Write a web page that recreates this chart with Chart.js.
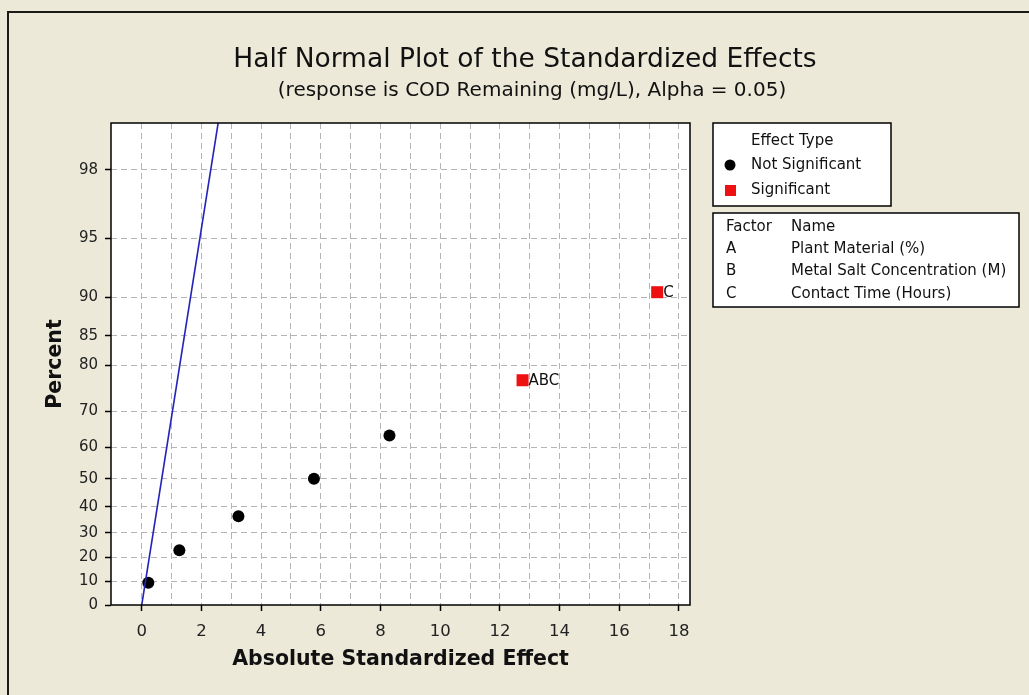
<!DOCTYPE html>
<html>
<head>
  <title>Half Normal Plot</title>
  <script src="https://cdn.jsdelivr.net/npm/chart.js"></script>
  <style>
    body { margin: 0; background: #ece9d8; }
    canvas { display: block; }
  </style>
</head>
<body>
  <canvas id="halfNormal" width="1029" height="695"></canvas>

  <script>
    const FONT = "'DejaVu Sans', sans-serif";

    // effects and their half-normal plotting positions (%)
    const nsEffects = [0.22, 1.26, 3.24, 5.77, 8.3];
    const nsPercent = [9.46, 22.97, 36.49, 50.0, 63.51];
    const sigEffects = [12.76, 17.27];
    const sigPercent = [77.03, 90.54];
    const sigLabels = ["ABC", "C"];

    // reference line through the origin
    const lineEffect = [0, 2.56];
    const linePercent = [0, 99.0];

    const percentTicks = [0, 10, 20, 30, 40, 50, 60, 70, 80, 85, 90, 95, 98];
    const effectGrid = [0, 1, 2, 3, 4, 5, 6, 7, 8, 9, 10, 11, 12, 13, 14, 15, 16, 17, 18];
    const effectLabels = [0, 2, 4, 6, 8, 10, 12, 14, 16, 18];

    const factorCodes = ["A", "B", "C"];
    const factorNames = ["Plant Material (%)", "Metal Salt Concentration (M)", "Contact Time (Hours)"];

    // inverse standard normal cdf (Acklam)
    function normInv(p) {
      const a = [-39.69683028665376, 220.9460984245205, -275.9285104469687, 138.3577518672690, -30.66479806614716, 2.506628277459239];
      const b = [-54.47609879822406, 161.5858368580409, -155.6989798598866, 66.80131188771972, -13.28068155288572];
      const c = [-0.007784894002430293, -0.3223964580411365, -2.400758277161838, -2.549732539343734, 4.374664141464968, 2.938163982698783];
      const d = [0.007784695709041462, 0.3224671290700398, 2.445134137142996, 3.754408661907416];
      const plow = 0.02425;
      let q, r;
      if (p < plow) {
        q = Math.sqrt(-2 * Math.log(p));
        return (((((c[0]*q+c[1])*q+c[2])*q+c[3])*q+c[4])*q+c[5]) / ((((d[0]*q+d[1])*q+d[2])*q+d[3])*q+1);
      }
      if (p <= 1 - plow) {
        q = p - 0.5; r = q * q;
        return (((((a[0]*r+a[1])*r+a[2])*r+a[3])*r+a[4])*r+a[5])*q / (((((b[0]*r+b[1])*r+b[2])*r+b[3])*r+b[4])*r+1);
      }
      q = Math.sqrt(-2 * Math.log(1 - p));
      return -(((((c[0]*q+c[1])*q+c[2])*q+c[3])*q+c[4])*q+c[5]) / ((((d[0]*q+d[1])*q+d[2])*q+d[3])*q+1);
    }
    const hnq = pct => normInv(0.5 + pct / 200);

    // percent axis spaced by half-normal quantiles
    class HalfNormalScale extends Chart.LinearScale {
      buildTicks() {
        return percentTicks.map(v => ({ value: v }));
      }
      getPixelForValue(v) {
        const lo = hnq(this.min), hi = hnq(this.max);
        return this.getPixelForDecimal((hnq(v) - lo) / (hi - lo));
      }
      getValueForPixel(px) {
        let lo = this.min, hi = this.max;
        for (let i = 0; i < 40; i++) {
          const mid = (lo + hi) / 2;
          if (this.getPixelForValue(mid) > px) lo = mid; else hi = mid;
        }
        return (lo + hi) / 2;
      }
    }
    HalfNormalScale.id = "halfnormal";
    HalfNormalScale.defaults = Chart.LinearScale.defaults;
    Chart.register(HalfNormalScale);

    const decor = {
      id: "decor",
      beforeDraw(chart) {
        const { ctx, chartArea: ca } = chart;
        ctx.save();
        ctx.fillStyle = "#ece9d8";
        ctx.fillRect(0, 0, chart.width, chart.height);
        ctx.strokeStyle = "#1a1a1a";
        ctx.lineWidth = 2;
        ctx.beginPath();
        ctx.moveTo(8, 695); ctx.lineTo(8, 12); ctx.lineTo(1029, 12);
        ctx.stroke();
        ctx.fillStyle = "#ffffff";
        ctx.fillRect(ca.left, ca.top, ca.right - ca.left, ca.bottom - ca.top);

        ctx.fillStyle = "#111";
        ctx.textAlign = "center";
        ctx.textBaseline = "middle";
        ctx.font = "26.5px " + FONT;
        ctx.fillText("Half Normal Plot of the Standardized Effects", 525, 60);
        ctx.font = "20px " + FONT;
        ctx.fillText("(response is COD Remaining (mg/L), Alpha = 0.05)", 532, 91);
        ctx.restore();
      },
      afterDatasetsDraw(chart) {
        const { ctx, chartArea: ca } = chart;
        ctx.save();
        ctx.strokeStyle = "#000";
        ctx.lineWidth = 1.5;
        ctx.strokeRect(ca.left, ca.top, ca.right - ca.left, ca.bottom - ca.top);

        // labels next to the significant effects
        ctx.fillStyle = "#111";
        ctx.font = "15px " + FONT;
        ctx.textAlign = "left";
        ctx.textBaseline = "middle";
        chart.getDatasetMeta(2).data.forEach((pt, i) => {
          ctx.fillText(sigLabels[i], pt.x + 6, pt.y + 1);
        });

        // effect type box
        ctx.lineWidth = 1.5;
        ctx.strokeStyle = "#000";
        ctx.fillStyle = "#ffffff";
        ctx.fillRect(713, 123, 178, 83);
        ctx.strokeRect(713, 123, 178, 83);
        ctx.fillRect(713, 213, 306, 94);
        ctx.strokeRect(713, 213, 306, 94);

        ctx.fillStyle = "#111";
        ctx.fillText("Effect Type", 751, 141);
        ctx.fillText("Not Significant", 751, 165);
        ctx.fillText("Significant", 751, 190);
        ctx.fillStyle = "#000";
        ctx.beginPath();
        ctx.arc(730, 165, 5.5, 0, Math.PI * 2);
        ctx.fill();
        ctx.fillStyle = "#ee1111";
        ctx.fillRect(725, 185, 11, 11);

        // factor names box
        ctx.fillStyle = "#111";
        ctx.fillText("Factor", 726, 227);
        ctx.fillText("Name", 791, 227);
        factorCodes.forEach((code, i) => {
          const y = 249 + i * 22.5;
          ctx.fillText(code, 726, y);
          ctx.fillText(factorNames[i], 791, y);
        });
        ctx.restore();
      }
    };

    const gridDash = [6, 4];

    new Chart(document.getElementById("halfNormal"), {
      type: "scatter",
      data: {
        datasets: [
          {
            type: "line",
            data: lineEffect.map((x, i) => ({ x, y: linePercent[i] })),
            borderColor: "#2424b8",
            borderWidth: 1.6,
            pointRadius: 0,
            fill: false
          },
          {
            label: "Not Significant",
            data: nsEffects.map((x, i) => ({ x, y: nsPercent[i] })),
            pointStyle: "circle",
            pointRadius: 6,
            backgroundColor: "#000",
            borderColor: "#000",
            borderWidth: 0
          },
          {
            label: "Significant",
            data: sigEffects.map((x, i) => ({ x, y: sigPercent[i] })),
            pointStyle: "rect",
            pointRadius: 8.5,
            backgroundColor: "#ee1111",
            borderColor: "#ee1111",
            borderWidth: 0
          }
        ]
      },
      options: {
        responsive: false,
        animation: false,
        events: [],
        layout: { padding: { top: 123, right: 339, bottom: 0, left: 0 } },
        plugins: { legend: { display: false }, tooltip: { enabled: false } },
        scales: {
          x: {
            type: "linear",
            min: -1.03,
            max: 18.37,
            afterBuildTicks: s => { s.ticks = effectGrid.map(v => ({ value: v })); },
            afterFit: s => { s.height = 90; },
            border: { display: false, dash: gridDash },
            grid: {
              color: "#b4b4b4",
              lineWidth: 1,
              tickLength: 6,
              tickWidth: 1.5,
              tickColor: c => effectLabels.includes(c.tick.value) ? "#000" : "rgba(0,0,0,0)"
            },
            ticks: {
              autoSkip: false,
              maxRotation: 0,
              padding: 11,
              color: "#222",
              font: { family: FONT, size: 16.5 },
              callback: v => effectLabels.includes(v) ? String(v) : ""
            },
            title: {
              display: true,
              text: "Absolute Standardized Effect",
              color: "#111",
              font: { family: FONT, size: 20.5, weight: "bold" },
              padding: { top: 0, bottom: 23 }
            }
          },
          y: {
            type: "halfnormal",
            min: 0,
            max: 99.0,
            afterFit: s => { s.width = 111; },
            border: { display: false, dash: gridDash },
            grid: {
              color: c => c.tick.value === 0 ? "rgba(0,0,0,0)" : "#b4b4b4",
              lineWidth: 1,
              tickLength: 6,
              tickWidth: 1.5,
              tickColor: "#000"
            },
            ticks: {
              autoSkip: false,
              padding: 7,
              color: "#222",
              font: { family: FONT, size: 15 }
            },
            title: {
              display: true,
              text: "Percent",
              color: "#111",
              font: { family: FONT, size: 20.5, weight: "bold" },
              padding: { top: 43, bottom: 0 }
            }
          }
        }
      },
      plugins: [decor]
    });
  </script>
</body>
</html>
